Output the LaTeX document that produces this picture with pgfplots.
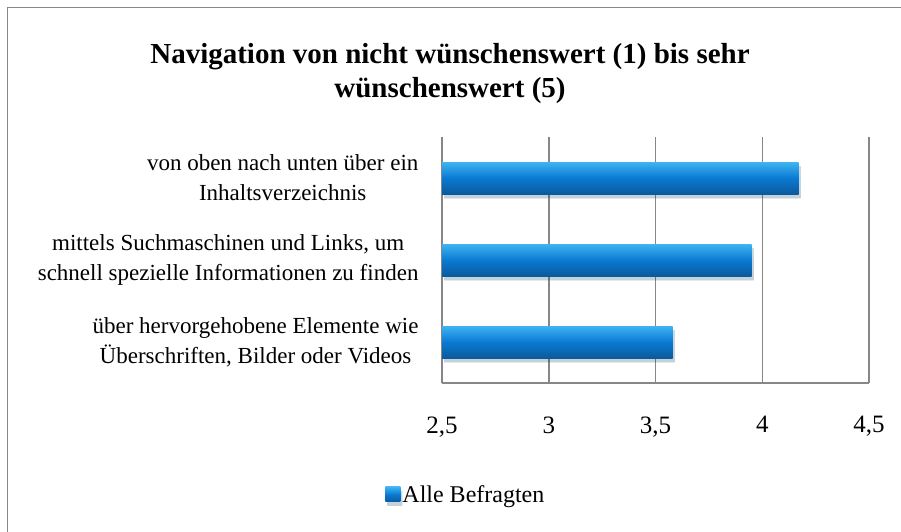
\documentclass[border=0pt]{standalone}
\usepackage{pgfplots}
\pgfplotsset{compat=1.18}
\usepackage{fontspec}
\setmainfont{Liberation Serif}
\definecolor{barmid}{HTML}{0A7AD2}
\definecolor{bartop}{HTML}{3FB4F2}
\definecolor{barbot}{HTML}{0B5A9C}
\definecolor{gridgray}{HTML}{878787}
\pgfplotsset{mybar/.style={xbar, bar width=32pt, bar shift=0pt, draw=none,
  top color=bartop, bottom color=barbot, middle color=barmid,
  preaction={fill=black, fill opacity=0.12, transform canvas={xshift=2pt,yshift=-4pt}}}}
\begin{document}
\begin{tikzpicture}[x=1pt,y=1pt]
\useasboundingbox (0,0) rectangle (901,531);
\draw[gridgray, line width=1.5pt] (7.5,-20) rectangle (920,523.5);
\node[font=\fontsize{29}{34}\selectfont\bfseries, align=center] at (450,457) {Navigation von nicht wünschenswert (1) bis sehr\\wünschenswert (5)};
\begin{axis}[
  at={(442pt,148pt)}, anchor=south west,
  scale only axis, width=427pt, height=246pt,
  xmin=2.5, xmax=4.5, ymin=-0.5, ymax=2.5,
  xtick={2.5,3,3.5,4,4.5},
  ytick={0,1,2},
  yticklabels={{über hervorgehobene Elemente wie\\Überschriften, Bilder oder Videos},
               {mittels Suchmaschinen und Links, um\\schnell spezielle Informationen zu finden},
               {von oben nach unten über ein\\Inhaltsverzeichnis}},
  yticklabel style={align=center, font=\fontsize{23}{30}\selectfont, xshift=-20pt},
  xticklabel style={font=\fontsize{25}{28}\selectfont, yshift=-30pt},
  /pgf/number format/assume math mode=true,
  /pgf/number format/use comma,
  major tick length=0pt,
  axis x line*=bottom, axis y line*=left,
  axis line style={gridgray, line width=1.5pt, -},
  xmajorgrids, grid style={gridgray, line width=1.5pt},
  legend style={at={(0.056,-0.455)}, anchor=center, draw=none, fill=none,
    font=\fontsize{24}{28}\selectfont, inner sep=0pt},
  legend image code/.code={\shade[top color=bartop, bottom color=barbot, middle color=barmid] (0pt,-7pt) rectangle (15pt,8pt);},
]
\addplot[mybar] coordinates {(3.58,0)};
\addlegendentry{Alle Befragten}
\addplot[mybar, forget plot] coordinates {(3.95,1)};
\addplot[mybar, forget plot] coordinates {(4.17,2)};
\end{axis}
\end{tikzpicture}
\end{document}
